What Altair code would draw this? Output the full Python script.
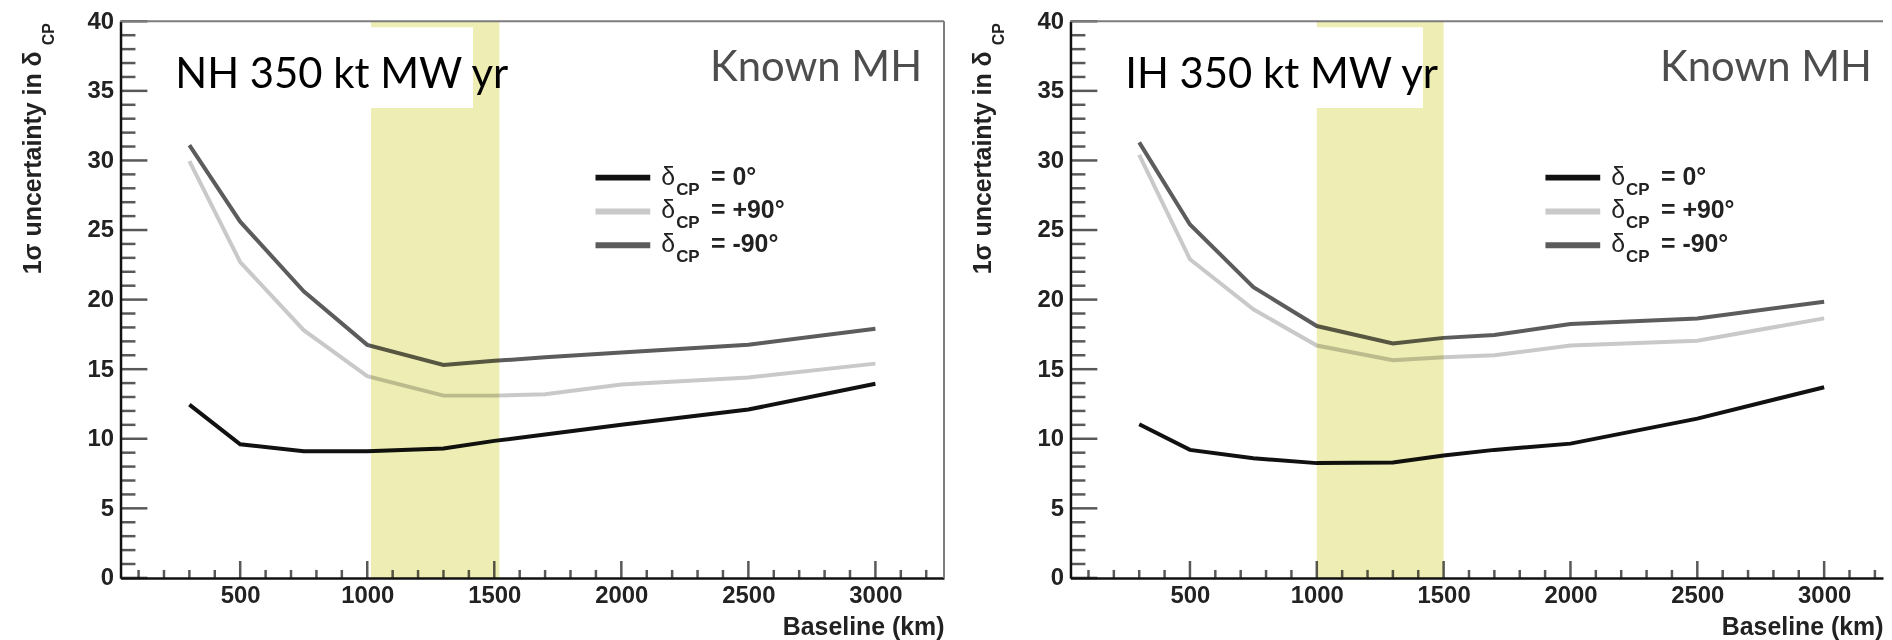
import altair as alt
import pandas as pd

# ---------------- data ----------------
baseline_km = [300, 500, 750, 1000, 1300, 1500, 1700, 2000, 2500, 3000]

nh_dcp_0 = [12.45, 9.6, 9.1, 9.1, 9.3, 9.85, 10.3, 11.0, 12.1, 13.95]
nh_dcp_p90 = [29.95, 22.7, 17.8, 14.5, 13.1, 13.1, 13.2, 13.9, 14.4, 15.4]
nh_dcp_m90 = [31.1, 25.6, 20.6, 16.75, 15.3, 15.6, 15.85, 16.2, 16.75, 17.9]

ih_dcp_0 = [11.05, 9.2, 8.6, 8.25, 8.3, 8.8, 9.2, 9.65, 11.45, 13.7]
ih_dcp_p90 = [30.4, 22.9, 19.3, 16.7, 15.65, 15.85, 16.0, 16.7, 17.05, 18.65]
ih_dcp_m90 = [31.3, 25.4, 20.9, 18.1, 16.85, 17.25, 17.45, 18.25, 18.65, 19.85]

series_names = ["0", "+90", "-90"]
series_colors = ["#111111", "#c9c9c9", "#5c5c5c"]
legend_suffix = ["= 0°", "= +90°", "= -90°"]

panel_tags = ["NH 350 kt MW yr", "IH 350 kt MW yr"]
corner_text = "Known MH"
y_title_main = "1σ uncertainty in δ"
y_title_sub = "CP"
x_title = "Baseline (km)"

nh_band = [1015, 1520]
ih_band = [1000, 1500]
nh_xdomain = [29, 3270]
ih_xdomain = [29, 3232]

y_major_ticks = [0, 5, 10, 15, 20, 25, 30, 35, 40]
y_minor_ticks = [v for v in range(0, 41) if v % 5 != 0]
x_major_ticks = [500, 1000, 1500, 2000, 2500, 3000]
x_minor_ticks = [v for v in range(100, 3300, 100) if v % 500 != 0]

FONT = "Liberation Sans"
TAG_FONT = "Lato"
ONE = pd.DataFrame({"a": [0]})


def make_panel(tag, curves, band, xdom, width, height, right_frame):
    rows = []
    for name, vals in zip(series_names, curves):
        for b, v in zip(baseline_km, vals):
            rows.append({"baseline": b, "unc": v, "dcp": name})
    df = pd.DataFrame(rows)

    xscale = alt.Scale(domain=xdom, nice=False, zero=False)
    yscale = alt.Scale(domain=[0, 40], nice=False, zero=False)
    x_axis = alt.Axis(
        values=x_major_ticks, ticks=False, grid=False, format="d",
        domainColor="#111111", domainWidth=2.5,
        labelFont=FONT, labelFontSize=24, labelFontWeight="bold",
        labelColor="#222222", labelPadding=6, labelFlush=False,
        title=x_title, titleFont=FONT, titleFontSize=25,
        titleFontWeight="bold", titleColor="#222222",
        titleAnchor="end", titleAlign="right", titlePadding=7)
    y_axis = alt.Axis(
        values=y_major_ticks, ticks=False, grid=False, format="d",
        domainColor="#111111", domainWidth=2.5,
        labelFont=FONT, labelFontSize=24, labelFontWeight="bold",
        labelColor="#222222", labelPadding=7, labelFlush=False,
        title="")

    def X(field="baseline"):
        return alt.X(f"{field}:Q", scale=xscale, axis=x_axis, title=x_title)

    def Y(field="unc"):
        return alt.Y(f"{field}:Q", scale=yscale, axis=y_axis, title="")

    lines = alt.Chart(df).mark_line(strokeWidth=4).encode(
        x=X(), y=Y(),
        color=alt.Color("dcp:N", scale=alt.Scale(domain=series_names, range=series_colors), legend=None),
    )

    band_df = pd.DataFrame({"baseline": [band[0]], "baseline_end": [band[1]]})
    band_rect = alt.Chart(band_df).mark_rect(color="#EEEDB3", blend="multiply").encode(
        x=X(), x2="baseline_end:Q",
        y=alt.value(0), y2=alt.value(height))

    y_maj = alt.Chart(pd.DataFrame({"unc": y_major_ticks})).mark_tick(
        orient="horizontal", thickness=2.5, size=27, color="#111111").encode(
        y=Y(), x=alt.value(13.5))
    y_min = alt.Chart(pd.DataFrame({"unc": y_minor_ticks})).mark_tick(
        orient="horizontal", thickness=2.5, size=15, color="#111111").encode(
        y=Y(), x=alt.value(7.5))
    x_maj = alt.Chart(pd.DataFrame({"baseline": x_major_ticks})).mark_tick(
        orient="vertical", thickness=2.5, size=17, color="#111111").encode(
        x=X(), y=alt.value(height - 8.5))
    x_min = alt.Chart(pd.DataFrame({"baseline": x_minor_ticks})).mark_tick(
        orient="vertical", thickness=2.5, size=8, color="#111111").encode(
        x=X(), y=alt.value(height - 4))

    top_frame = alt.Chart(ONE).mark_rule(color="#7d7d7d", strokeWidth=2).encode(
        x=alt.value(0), x2=alt.value(width), y=alt.value(0))
    layers = [lines, band_rect]

    box = alt.Chart(ONE).mark_rect(fill="white").encode(
        x=alt.value(30), x2=alt.value(354), y=alt.value(6), y2=alt.value(87))
    tag_text = alt.Chart(pd.DataFrame({"s": [tag]})).mark_text(
        font=TAG_FONT, fontSize=42, align="left", baseline="alphabetic", color="#000000").encode(
        x=alt.value(55), y=alt.value(67), text="s:N")
    corner = alt.Chart(pd.DataFrame({"s": [corner_text]})).mark_text(
        font=TAG_FONT, fontSize=42, align="right", baseline="alphabetic", color="#4d4d4d").encode(
        x=alt.value(805), y=alt.value(60), text="s:N")
    layers += [box, tag_text, corner, y_maj, y_min, x_maj, x_min, top_frame]
    if right_frame:
        layers.append(alt.Chart(ONE).mark_rule(color="#7d7d7d", strokeWidth=2).encode(
            x=alt.value(width), y=alt.value(0), y2=alt.value(height)))

    # legend
    for i, (col, suf) in enumerate(zip(series_colors, legend_suffix)):
        base_y = 164 + 34 * i
        layers.append(alt.Chart(ONE).mark_rule(color=col, strokeWidth=6).encode(
            x=alt.value(477), x2=alt.value(532), y=alt.value(base_y - 7)))
        layers.append(alt.Chart(pd.DataFrame({"s": ["δ"]})).mark_text(
            font=FONT, fontSize=25, align="left", baseline="alphabetic", color="#222222").encode(
            x=alt.value(543), y=alt.value(base_y), text="s:N"))
        layers.append(alt.Chart(pd.DataFrame({"s": [y_title_sub]})).mark_text(
            font=FONT, fontSize=17, fontWeight="bold", align="left", baseline="alphabetic",
            color="#222222").encode(x=alt.value(558), y=alt.value(base_y + 10), text="s:N"))
        layers.append(alt.Chart(pd.DataFrame({"s": [suf]})).mark_text(
            font=FONT, fontSize=25, fontWeight="bold", align="left", baseline="alphabetic",
            color="#222222").encode(x=alt.value(593), y=alt.value(base_y), text="s:N"))

    # y-axis title with subscript
    layers.append(alt.Chart(pd.DataFrame({"s": [y_title_main]})).mark_text(
        font=FONT, fontSize=25, fontWeight="bold", align="left", baseline="alphabetic",
        angle=270, color="#222222").encode(x=alt.value(-80), y=alt.value(254), text="s:N"))
    layers.append(alt.Chart(pd.DataFrame({"s": [y_title_sub]})).mark_text(
        font=FONT, fontSize=16, fontWeight="bold", align="left", baseline="alphabetic",
        angle=270, color="#222222").encode(x=alt.value(-67), y=alt.value(24), text="s:N"))

    return alt.layer(*layers).properties(width=width, height=height)


left = make_panel(panel_tags[0], [nh_dcp_0, nh_dcp_p90, nh_dcp_m90], nh_band, nh_xdomain, 827, 559, True)
right = make_panel(panel_tags[1], [ih_dcp_0, ih_dcp_p90, ih_dcp_m90], ih_band, ih_xdomain, 816, 559, False)

chart = alt.hconcat(left, right, spacing=25).properties(
    padding={"left": 12, "top": 0, "right": 0, "bottom": 0},
    background="white",
).configure_view(stroke=None)

chart.save("out.html", embed_options={"renderer": "svg", "actions": False})
